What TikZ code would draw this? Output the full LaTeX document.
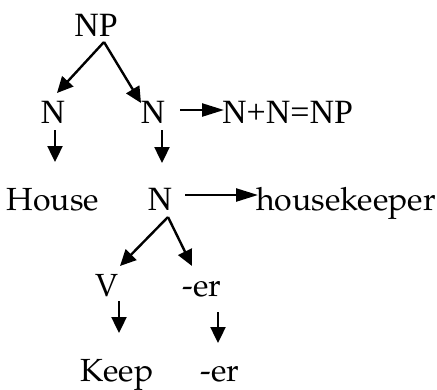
\documentclass[tikz,border=0pt]{standalone}
\usepackage{fontspec}
\setmainfont{Liberation Serif}
\newfontfamily\palfont{texgyrepagella}[Extension=.otf,UprightFont=*-regular]
\usetikzlibrary{arrows.meta,calc}
\begin{document}
\begin{tikzpicture}[x=1pt,y=-1pt,
  lbl/.style={inner sep=0pt,anchor=base,font=\fontsize{34}{38}\selectfont},
  plbl/.style={inner sep=0pt,anchor=base,font=\palfont\fontsize{32}{36}\selectfont},
  arr/.style={line width=2.4pt,-{Triangle[length=16pt,width=15pt]}},
  harr/.style={line width=2.4pt,-{Triangle[length=22pt,width=13pt]}}]
\useasboundingbox (0,0) rectangle (437,389);
\node[lbl] (np) at (96,36) {NP};
\node[lbl] (n1) at (53,123) {N};
\node[lbl] (n2) at (153,123) {N};
\node[lbl,anchor=base west] (nn) at (222,123) {N+N=NP};
\node[plbl] (house) at (53,210) {House};
\node[lbl] (n3) at (160,210) {N};
\node[plbl,anchor=base west] (hk) at (256,210) {housekeeper};
\node[plbl] (v) at (107,296) {V};
\node[plbl] (er1) at (202,296) {-er};
\node[plbl] (keep) at (117,381) {Keep};
\node[plbl] (er2) at (220,381) {-er};
\draw[arr] ($(np.base)+(8,6)$) -- ($(n1.base)+(4,-30)$);
\draw[arr] ($(np.base)+(8,6)$) -- ($(n2.base)+(-12,-20)$);
\draw[harr] ($(n2.base)+(27,-13)$) -- ($(nn.base west)+(2,-13)$);
\draw[arr] ($(n1.base)+(2,7)$) -- ($(house.base)+(2,-48)$);
\draw[arr] ($(n2.base)+(9,7)$) -- ($(n3.base)+(2,-47)$);
\draw[harr] ($(n3.base)+(25,-15)$) -- ($(hk.base west)+(2,-15)$);
\draw[arr] ($(n3.base)+(8,7)$) -- ($(v.base)+(13,-30)$);
\draw[arr] ($(n3.base)+(8,7)$) -- ($(er1.base)+(-10,-30)$);
\draw[arr] ($(v.base)+(12,5)$) -- ($(keep.base)+(2,-48)$);
\draw[arr] ($(er1.base)+(16,16)$) -- ($(er2.base)+(-2,-38)$);
\end{tikzpicture}
\end{document}
